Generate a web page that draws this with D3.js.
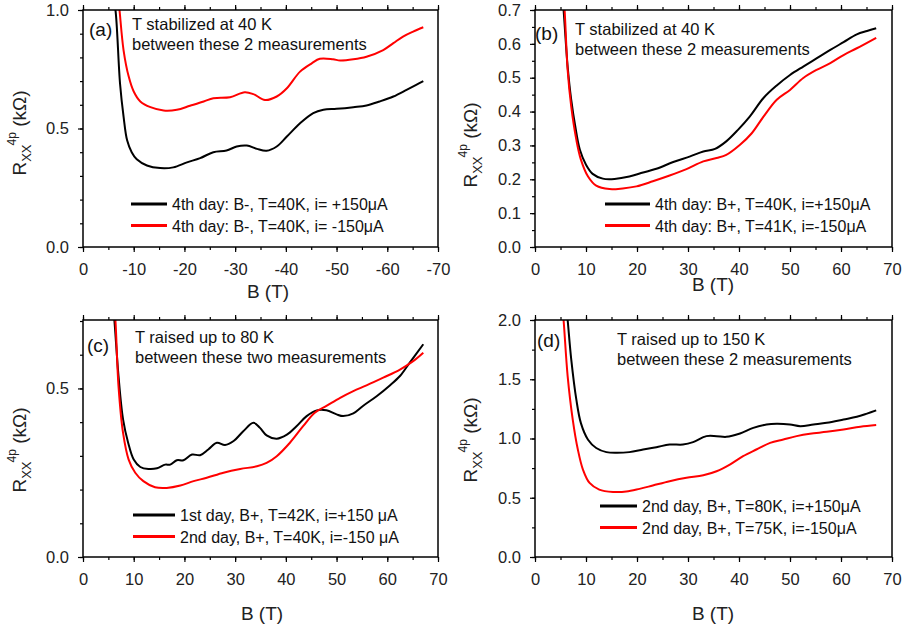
<!DOCTYPE html>
<meta charset="utf-8">
<style>
body { margin:0; background:#fff; font-family:"Liberation Sans", Arial, sans-serif; }
.frame { fill:none; stroke:#000; stroke-width:1.5px; }
.axis path { display:none; }
.axis line { stroke:#000; stroke-width:1.2px; }
.axis text { font-size:16.5px; fill:#222; font-family:"Liberation Sans", Arial, sans-serif; }
.curve { fill:none; stroke-width:2px; stroke-linejoin:round; }
.note { font-size:16.5px; fill:#111; }
.leg { font-size:16px; fill:#111; }
.title { font-size:19px; fill:#222; }
</style>
<body>
<div id="chart"></div>
<script src="https://d3js.org/d3.v7.min.js"></script>
<script>
// [B (T), R (kOhm)]
var aBlack = [[-6.0,1.04],[-6.4,1.0],[-7.3,0.69],[-8.0,0.55],[-8.7,0.45],[-9.6,0.40],[-10.6,0.37],[-12.6,0.344],[-15.2,0.333],[-17.8,0.336],[-20.5,0.357],[-23.1,0.375],[-25.7,0.40],[-28.3,0.407],[-30.3,0.424],[-32.3,0.428],[-34.3,0.414],[-36.2,0.406],[-38.2,0.424],[-40.2,0.466],[-42.8,0.522],[-45.4,0.565],[-47.4,0.579],[-50,0.583],[-53.3,0.59],[-55.9,0.597],[-58.5,0.614],[-61.2,0.635],[-63.8,0.663],[-65.7,0.684],[-67.1,0.70]];
var aRed = [[-7.0,1.04],[-7.2,1.0],[-8.0,0.83],[-9.0,0.72],[-10.0,0.656],[-11.3,0.614],[-13.3,0.59],[-15.9,0.576],[-18.5,0.579],[-21.1,0.596],[-23.8,0.614],[-25.7,0.628],[-29,0.632],[-31.9,0.653],[-33.6,0.645],[-35.9,0.62],[-38.2,0.635],[-40.2,0.67],[-42.8,0.74],[-45.1,0.775],[-46.7,0.794],[-49.3,0.792],[-50.7,0.787],[-53.3,0.792],[-55.9,0.803],[-59.2,0.831],[-61.2,0.86],[-63.1,0.888],[-65.1,0.909],[-67.1,0.927]];

var bBlack = [[5.4,0.73],[5.6,0.70],[6.4,0.533],[7.1,0.435],[7.9,0.356],[8.8,0.287],[10.0,0.243],[11.3,0.216],[13.3,0.202],[15.6,0.201],[18.5,0.208],[21.2,0.22],[23.8,0.231],[27.1,0.251],[30.3,0.267],[33.0,0.282],[35.3,0.29],[37.5,0.312],[39.8,0.346],[42.1,0.385],[44.8,0.44],[47.4,0.477],[50,0.508],[52.6,0.533],[55.2,0.557],[57.9,0.582],[60.5,0.605],[63.1,0.628],[65.1,0.638],[66.9,0.646]];
var bRed = [[5.6,0.73],[5.8,0.70],[6.4,0.523],[7.1,0.415],[8.1,0.317],[9.0,0.258],[10.4,0.208],[12.0,0.181],[14.6,0.171],[17.2,0.173],[19.9,0.179],[23.1,0.194],[26.4,0.211],[29.7,0.23],[33.0,0.253],[35.6,0.263],[37.5,0.272],[40.2,0.302],[42.5,0.336],[44.8,0.385],[47.4,0.435],[50,0.464],[52.6,0.499],[55.2,0.523],[57.9,0.543],[60.5,0.567],[63.1,0.587],[66.9,0.618]];

var cBlack = [[6.0,0.73],[6.2,0.70],[7.0,0.537],[7.9,0.408],[8.9,0.339],[10.0,0.289],[11.3,0.267],[12.9,0.261],[14.6,0.263],[16.2,0.274],[17.2,0.274],[18.5,0.287],[19.8,0.287],[21.5,0.304],[23.1,0.302],[24.7,0.319],[26.4,0.339],[28.0,0.332],[29.7,0.344],[31.6,0.373],[33.6,0.398],[34.9,0.383],[36.2,0.361],[38.2,0.351],[40.2,0.363],[42.1,0.388],[44.1,0.418],[46.1,0.435],[48.0,0.435],[50.0,0.423],[51.3,0.418],[53.3,0.426],[55.2,0.448],[57.9,0.477],[60.5,0.509],[62.5,0.537],[64.4,0.576],[67.1,0.631]];
var cRed = [[6.2,0.73],[6.4,0.70],[7.0,0.507],[7.9,0.368],[9.0,0.289],[10.3,0.25],[11.9,0.225],[14.2,0.207],[16.5,0.205],[19.2,0.212],[21.8,0.225],[24.4,0.235],[27.7,0.25],[31.0,0.261],[34.3,0.269],[36.2,0.279],[38.2,0.299],[40.8,0.339],[43.4,0.388],[45.7,0.428],[48.0,0.448],[50.7,0.472],[53.3,0.492],[55.9,0.509],[59.2,0.532],[62.5,0.556],[65.1,0.581],[67.1,0.606]];

var dBlack = [[6.2,2.08],[6.4,2.0],[7.1,1.67],[8.1,1.33],[9.0,1.13],[10.4,0.99],[12.0,0.92],[14.0,0.885],[15.9,0.879],[18.5,0.885],[21.2,0.907],[23.8,0.927],[26.4,0.949],[29.0,0.949],[31.0,0.969],[33.6,1.02],[35.6,1.02],[37.5,1.014],[40.2,1.042],[42.8,1.09],[45.4,1.118],[47.4,1.124],[50,1.118],[52,1.104],[54.6,1.118],[57.2,1.132],[60.5,1.16],[63.1,1.183],[65.1,1.21],[66.9,1.237]];
var dRed = [[5.4,2.08],[5.6,2.0],[6.4,1.527],[7.4,1.16],[8.4,0.907],[9.4,0.738],[10.7,0.625],[12.6,0.569],[15.3,0.549],[17.9,0.552],[20.5,0.575],[23.1,0.603],[26.4,0.639],[29.7,0.668],[33.0,0.69],[35.6,0.724],[38.2,0.78],[40.8,0.851],[43.4,0.907],[46.1,0.963],[48.7,0.992],[51.3,1.02],[53.9,1.04],[57.2,1.056],[60.5,1.076],[63.8,1.099],[66.9,1.113]];

var xTicksPos = [0,10,20,30,40,50,60,70];
var xTicksNeg = [0,-10,-20,-30,-40,-50,-60,-70];
var aYTicks = [0,0.5,1.0];
var bYTicks = [0,0.1,0.2,0.3,0.4,0.5,0.6,0.7];
var cYTicks = [0,0.5];
var dYTicks = [0,0.5,1.0,1.5,2.0];

var aLegend = ["4th day: B-, T=40K, i= +150\u03bcA", "4th day: B-, T=40K, i= -150\u03bcA"];
var bLegend = ["4th day: B+, T=40K, i=+150\u03bcA", "4th day: B+, T=41K, i=-150\u03bcA"];
var cLegend = ["1st day, B+, T=42K, i=+150 \u03bcA", "2nd day, B+, T=40K, i=-150 \u03bcA"];
var dLegend = ["2nd day, B+, T=80K, i=+150\u03bcA", "2nd day, B+, T=75K, i=-150\u03bcA"];

var aNote = ["T stabilized at 40 K", "between these 2 measurements"];
var bNote = ["T stabilized at 40 K", "between these 2 measurements"];
var cNote = ["T raised up to 80 K", "between these two measurements"];
var dNote = ["T raised up to 150 K", "between these 2 measurements"];

var colors = ["#000000", "#ff0000"];

var svg = d3.select("#chart").append("svg")
    .attr("width", 903)
    .attr("height", 633);

var panels = [
  {id:"a", L:83, R:438, T:10, B:247, xd:[0,-70], yd:[0,1.0], xt:xTicksNeg, xm:5, yt:aYTicks, ym:0.1, series:[aBlack,aRed], legend:aLegend, note:aNote,
   lab:[89,36], noteXY:[132,30], legXY:[131,204], legTx:172, titleX:[268,298], titleY:[26,133]},
  {id:"b", L:535, R:892, T:10, B:247, xd:[0,70], yd:[0,0.7], xt:xTicksPos, xm:5, yt:bYTicks, ym:0.05, series:[bBlack,bRed], legend:bLegend, note:bNote,
   lab:[535,40], noteXY:[575,35], legXY:[605,204], legTx:655, titleX:[713,291], titleY:[477,145]},
  {id:"c", L:83, R:438, T:320, B:557, xd:[0,70], yd:[0,0.703], xt:xTicksPos, xm:5, yt:cYTicks, ym:0.1, series:[cBlack,cRed], legend:cLegend, note:cNote,
   lab:[87,352], noteXY:[135,343], legXY:[133,515], legTx:180, titleX:[262,620], titleY:[26,450]},
  {id:"d", L:535, R:892, T:320, B:557, xd:[0,70], yd:[0,2.0], xt:xTicksPos, xm:5, yt:dYTicks, ym:0.25, series:[dBlack,dRed], legend:dLegend, note:dNote,
   lab:[537,347], noteXY:[617,345], legXY:[600,506], legTx:642, titleX:[713,620], titleY:[477,440]}
];

panels.forEach(function(p) {
  var x = d3.scaleLinear().domain(p.xd).range([p.L, p.R]);
  var y = d3.scaleLinear().domain(p.yd).range([p.B, p.T]);
  var g = svg.append("g");

  // minor tick values
  var xMinor = d3.range(0, 70.01, p.xm).map(function(v) { return p.xd[1] < 0 ? -v : v; });
  var yMinor = d3.range(0, p.yd[1] + 1e-6, p.ym);

  g.append("g").attr("class", "axis")
    .attr("transform", "translate(0," + p.B + ")")
    .call(d3.axisBottom(x).tickValues(xMinor).tickSize(3).tickFormat(""));
  g.append("g").attr("class", "axis")
    .attr("transform", "translate(0," + p.B + ")")
    .call(d3.axisBottom(x).tickValues(p.xt).tickSize(5).tickPadding(11)
      .tickFormat(function(d) { return String(d); }));
  g.append("g").attr("class", "axis")
    .attr("transform", "translate(0," + p.T + ")")
    .call(d3.axisTop(x).tickValues(xMinor).tickSize(3).tickFormat(""));
  g.append("g").attr("class", "axis")
    .attr("transform", "translate(0," + p.T + ")")
    .call(d3.axisTop(x).tickValues(p.xt).tickSize(5).tickFormat(""));
  g.append("g").attr("class", "axis")
    .attr("transform", "translate(" + p.L + ",0)")
    .call(d3.axisLeft(y).tickValues(yMinor).tickSize(3).tickFormat(""));
  g.append("g").attr("class", "axis")
    .attr("transform", "translate(" + p.L + ",0)")
    .call(d3.axisLeft(y).tickValues(p.yt).tickSize(5).tickPadding(9).tickFormat(d3.format(".1f")));

  g.append("clipPath").attr("id", "clip" + p.id)
    .append("rect").attr("x", p.L).attr("y", p.T).attr("width", p.R - p.L).attr("height", p.B - p.T);

  var line = d3.line()
      .x(function(d) { return x(d[0]); })
      .y(function(d) { return y(d[1]); })
      .curve(d3.curveCatmullRom);
  p.series.forEach(function(s, i) {
    g.append("path").datum(s)
      .attr("class", "curve")
      .attr("clip-path", "url(#clip" + p.id + ")")
      .attr("stroke", colors[i])
      .attr("d", line);
  });

  g.append("rect").attr("class", "frame")
    .attr("x", p.L).attr("y", p.T).attr("width", p.R - p.L).attr("height", p.B - p.T);

  // panel label and note
  g.append("text").attr("class", "note").attr("x", p.lab[0]).attr("y", p.lab[1])
    .style("font-size", "19px").text("(" + p.id + ")");
  p.note.forEach(function(t, i) {
    g.append("text").attr("class", "note").attr("x", p.noteXY[0]).attr("y", p.noteXY[1] + i * 20).text(t);
  });

  // legend
  p.legend.forEach(function(t, i) {
    var ly = p.legXY[1] + i * 21.5;
    g.append("line").attr("x1", p.legXY[0]).attr("x2", p.legTx - 5)
      .attr("y1", ly).attr("y2", ly)
      .attr("stroke", colors[i]).attr("stroke-width", 3);
    g.append("text").attr("class", "leg").attr("x", p.legTx).attr("y", ly + 6).text(t);
  });

  // axis titles
  g.append("text").attr("class", "title").attr("text-anchor", "middle")
    .attr("x", p.titleX[0]).attr("y", p.titleX[1]).text("B (T)");
  var yt = g.append("text").attr("class", "title").attr("text-anchor", "middle")
    .attr("transform", "translate(" + p.titleY[0] + "," + p.titleY[1] + ") rotate(-90)");
  yt.append("tspan").text("R");
  yt.append("tspan").attr("dy", 5).style("font-size", "13px").text("XX");
  yt.append("tspan").attr("dy", -15).attr("dx", -1).style("font-size", "12px").text("4p");
  yt.append("tspan").attr("dy", 10).text(" (k\u03a9)");
});
</script>
</body>
